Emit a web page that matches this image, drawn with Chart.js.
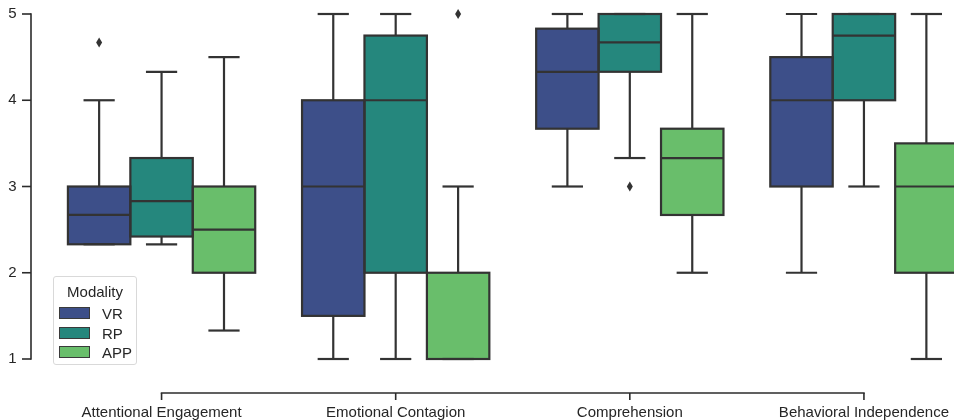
<!DOCTYPE html>
<html>
<head>
<meta charset="utf-8">
<script src="https://cdn.jsdelivr.net/npm/chart.js@4/dist/chart.umd.min.js"></script>
<style>
  html, body { margin:0; padding:0; overflow:hidden; background:#fff; }
  #wrap { position:relative; width:1000px; height:420px; }
  #legend { position:absolute; left:53px; top:276px; width:84px; height:89px; box-sizing:border-box;
    border:1px solid #d9d9d9; border-radius:3px; background:rgba(255,255,255,0.85);
    font-family:"Liberation Sans", Arial, sans-serif; color:#262626; }
  #legend .title { position:absolute; left:0; right:0; top:6px; text-align:center; font-size:15px; line-height:17px; }
  #legend .item { position:absolute; left:5px; height:17px; font-size:15px; line-height:17px; }
  #legend .sw { position:absolute; left:0; top:2px; width:31px; height:12px; box-sizing:border-box; border:1px solid #3a3a3a; }
  #legend .lb { position:absolute; left:43px; top:0; white-space:nowrap; }
</style>
</head>
<body>
<div id="wrap">
  <canvas id="c" width="1000" height="420"></canvas>
  <div id="legend"></div>
</div>
<script>
const categories = ['Attentional Engagement', 'Emotional Contagion', 'Comprehension', 'Behavioral Independence'];
const seriesNames = ['VR', 'RP', 'APP'];
const seriesColors = ['#3d4f89', '#25877d', '#69be6b'];
const yTicks = [1, 2, 3, 4, 5];

const vrQ1 = [2.33, 1.5, 3.67, 3.0];
const vrQ3 = [3.0, 4.0, 4.83, 4.5];
const vrMedian = [2.67, 3.0, 4.33, 4.0];
const vrLow = [2.33, 1.0, 3.0, 2.0];
const vrHigh = [4.0, 5.0, 5.0, 5.0];
const vrOutliers = [[4.67], [], [], []];

const rpQ1 = [2.42, 2.0, 4.33, 4.0];
const rpQ3 = [3.33, 4.75, 5.0, 5.0];
const rpMedian = [2.83, 4.0, 4.67, 4.75];
const rpLow = [2.33, 1.0, 3.33, 3.0];
const rpHigh = [4.33, 5.0, 5.0, 5.0];
const rpOutliers = [[], [], [3.0], []];

const appQ1 = [2.0, 1.0, 2.67, 2.0];
const appQ3 = [3.0, 2.0, 3.67, 3.5];
const appMedian = [2.5, 1.0, 3.33, 3.0];
const appLow = [1.33, 1.0, 2.0, 1.0];
const appHigh = [4.5, 3.0, 5.0, 5.0];
const appOutliers = [[], [5.0], [], []];

const stats = [
  {q1: vrQ1, q3: vrQ3, med: vrMedian, lo: vrLow, hi: vrHigh, out: vrOutliers},
  {q1: rpQ1, q3: rpQ3, med: rpMedian, lo: rpLow, hi: rpHigh, out: rpOutliers},
  {q1: appQ1, q3: appQ3, med: appMedian, lo: appLow, hi: appHigh, out: appOutliers}
];

const EDGE = '#333333';
const AXIS = '#2b2b2b';
const FONT = '"Liberation Sans", Arial, sans-serif';

const boxPlugin = {
  id: 'boxExtras',
  afterDatasetsDraw(chart) {
    const ctx = chart.ctx, y = chart.scales.y, x = chart.scales.x;
    ctx.save();
    ctx.strokeStyle = EDGE; ctx.fillStyle = EDGE; ctx.lineWidth = 2.2; ctx.lineCap = 'butt'; ctx.lineJoin = 'miter';
    const line = (x1, y1, x2, y2) => { ctx.beginPath(); ctx.moveTo(x1, y1); ctx.lineTo(x2, y2); ctx.stroke(); };
    chart.data.datasets.forEach((ds, di) => {
      const meta = chart.getDatasetMeta(di), s = stats[di];
      meta.data.forEach((bar, i) => {
        const cx = bar.x, w = bar.width;
        const q1 = y.getPixelForValue(s.q1[i]), q3 = y.getPixelForValue(s.q3[i]);
        const lo = y.getPixelForValue(s.lo[i]), hi = y.getPixelForValue(s.hi[i]);
        const md = y.getPixelForValue(s.med[i]);
        if (lo !== q1) line(cx, q1, cx, lo);
        if (hi !== q3) line(cx, q3, cx, hi);
        line(cx - w / 4, lo, cx + w / 4, lo);
        line(cx - w / 4, hi, cx + w / 4, hi);
        ctx.strokeRect(cx - w / 2, q3, w, q1 - q3);
        line(cx - w / 2, md, cx + w / 2, md);
        s.out[i].forEach(v => {
          const py = y.getPixelForValue(v);
          ctx.beginPath();
          ctx.moveTo(cx, py - 5); ctx.lineTo(cx + 3, py); ctx.lineTo(cx, py + 5); ctx.lineTo(cx - 3, py);
          ctx.closePath(); ctx.fill();
        });
      });
    });
    // y spine (offset, trimmed)
    ctx.strokeStyle = AXIS; ctx.lineWidth = 1.6;
    const sx = 31;
    const yTop = y.getPixelForValue(yTicks[yTicks.length - 1]), yBot = y.getPixelForValue(yTicks[0]);
    line(sx, yTop - 0.8, sx, yBot + 0.8);
    yTicks.forEach(t => { const py = y.getPixelForValue(t); line(sx, py, sx - 9, py); });
    // x spine (offset, trimmed)
    const sy = 393;
    const xL = x.getPixelForValue(0), xR = x.getPixelForValue(categories.length - 1);
    line(xL - 0.8, sy, xR + 0.8, sy);
    categories.forEach((c, i) => { const px = x.getPixelForValue(i); line(px, sy, px, sy + 7); });
    ctx.restore();
  }
};

const datasets = stats.map((s, di) => ({
  label: seriesNames[di],
  data: s.q1.map((v, i) => [v, s.q3[i]]),
  backgroundColor: seriesColors[di],
  borderWidth: 0,
  categoryPercentage: 0.8,
  barPercentage: 1.0,
  clip: false
}));

new Chart(document.getElementById('c'), {
  type: 'bar',
  data: { labels: categories, datasets },
  options: {
    responsive: false,
    animation: false,
    devicePixelRatio: 1,
    layout: { padding: { top: 14, right: 19, left: 0, bottom: 0 } },
    plugins: { legend: { display: false }, tooltip: { enabled: false } },
    scales: {
      x: {
        grid: { display: false, drawTicks: false },
        border: { display: false },
        ticks: { color: '#262626', font: { family: FONT, size: 15 }, padding: 45, maxRotation: 0, autoSkip: false },
        afterFit: s => { s.height = 61; s.paddingLeft = 0; s.paddingRight = 0; }
      },
      y: {
        min: 1, max: 5,
        grid: { display: false, drawTicks: false },
        border: { display: false },
        ticks: { stepSize: 1, color: '#262626', font: { family: FONT, size: 15 }, padding: 28,
                 callback: v => yTicks.includes(v) ? String(v) : '' },
        afterFit: s => { s.width = 44.5; s.paddingTop = 0; s.paddingBottom = 0; }
      }
    }
  },
  plugins: [boxPlugin]
});

const leg = document.getElementById('legend');
const t = document.createElement('div'); t.className = 'title'; t.textContent = 'Modality'; leg.appendChild(t);
seriesNames.forEach((n, i) => {
  const it = document.createElement('div'); it.className = 'item'; it.style.top = (28 + i * 19.5) + 'px';
  const sw = document.createElement('div'); sw.className = 'sw'; sw.style.background = seriesColors[i];
  const lb = document.createElement('div'); lb.className = 'lb'; lb.textContent = n;
  it.appendChild(sw); it.appendChild(lb); leg.appendChild(it);
});
</script>
</body>
</html>
